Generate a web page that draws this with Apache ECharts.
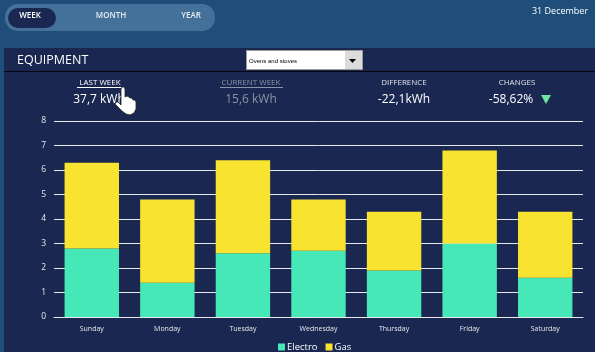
<!DOCTYPE html>
<html>
<head>
<meta charset="utf-8">
<script src="https://cdn.jsdelivr.net/npm/echarts@6/dist/echarts.min.js"></script>
<style>
    html, body { margin: 0; padding: 0; background: #1f4e7a; }
    #chart { width: 595px; height: 352px; }
</style>
</head>
<body>
<div id="chart"></div>
<script>
const days = ['Sunday', 'Monday', 'Tuesday', 'Wednesday', 'Thursday', 'Friday', 'Saturday'];
const electro = [2.8, 1.4, 2.6, 2.7, 1.9, 3.0, 1.6];
const gas = [3.5, 3.4, 3.8, 2.1, 2.4, 3.8, 2.7];
const tabs = ['WEEK', 'MONTH', 'YEAR'];

const font = '"Open Sans", "Noto Sans", sans-serif';
const panel = '#1a2750';

function label(x, y, text, size, color, extra) {
    return {
        type: 'text', x, y, z: 5,
        style: Object.assign({ text, fontSize: size, fontFamily: font, fill: color, align: 'center', verticalAlign: 'middle' }, extra)
    };
}

function rect(x, y, width, height, fill, r, z) {
    return { type: 'rect', z: z === undefined ? 0 : z, shape: { x, y, width, height, r: r || 0 }, style: { fill } };
}

const chart = echarts.init(document.getElementById('chart'));

chart.setOption({
    backgroundColor: '#1f4e7a',
    animation: false,
    grid: { left: 54, right: 12, top: 121, bottom: 35 },
    legend: {
        data: ['Electro', 'Gas'],
        bottom: -5,
        left: 273,
        itemWidth: 7,
        itemHeight: 7,
        itemGap: 8,
        icon: 'rect',
        textStyle: { color: '#ffffff', fontSize: 9.5, fontFamily: font, padding: [0, 0, 0, -3] }
    },
    xAxis: {
        type: 'category',
        data: days,
        axisTick: { show: false },
        axisLine: { lineStyle: { color: '#e6e8ee', width: 1 } },
        axisLabel: { color: '#e6e8ee', fontSize: 7, fontFamily: font, margin: 8, interval: 0 }
    },
    yAxis: {
        type: 'value',
        min: 0,
        max: 8,
        interval: 1,
        axisLine: { show: false },
        axisTick: { show: false },
        axisLabel: { color: '#e6e8ee', fontSize: 8.5, fontFamily: font, margin: 8 },
        splitLine: { lineStyle: { color: '#e6e8ee', width: 1 } }
    },
    series: [
        { name: 'Electro', type: 'bar', stack: 'total', barWidth: '72%', data: electro, itemStyle: { color: '#47e8b8' } },
        { name: 'Gas', type: 'bar', stack: 'total', barWidth: '72%', data: gas, itemStyle: { color: '#f7e330' } }
    ],
    graphic: [
        // tabs
        rect(5, 4, 210, 27, '#44719a', 13),
        rect(8, 8, 48, 20, panel, 10, 1),
        label(30, 16, tabs[0], 8, '#ffffff', { fontWeight: 600 }),
        label(111, 16, tabs[1], 8, '#e6ecf3', { fontWeight: 600 }),
        label(191, 16, tabs[2], 8, '#e6ecf3', { fontWeight: 600 }),
        label(560, 11, '31 December', 9, '#ffffff'),
        // panel
        rect(4, 48, 591, 304, panel),
        rect(4, 71, 591, 1, '#05070f', 0, 1),
        label(17, 60, 'EQUIPMENT', 12.5, '#ffffff', { align: 'left' }),
        // dropdown
        rect(246, 50, 117, 20, '#9a9a9a', 0, 1),
        rect(247, 51, 115, 18, '#ffffff', 0, 3),
        rect(345, 51, 17, 18, '#dcdcdc', 0, 4),
        label(249, 61, 'Ovens and stoves', 6, '#000000', { align: 'left', fontFamily: 'Liberation Sans' }),
        { type: 'polygon', z: 5, shape: { points: [[349, 59], [356, 59], [352.5, 63]] }, style: { fill: '#000000' } },
        // headline numbers
        label(100, 83, 'LAST WEEK', 8, '#ffffff'),
        rect(77, 87, 47, 1, '#ffffff', 0, 5),
        label(99, 100, '37,7 kWh', 12, '#ffffff'),
        label(251, 83, 'CURRENT WEEK', 8, '#8d93a6'),
        rect(220, 87, 63, 1, '#8d93a6', 0, 5),
        label(251, 100, '15,6 kWh', 12, '#8d93a6'),
        label(404, 83, 'DIFFERENCE', 8, '#dfe2ea'),
        label(404, 100, '-22,1kWh', 12, '#ffffff'),
        label(517, 83, 'CHANGES', 8, '#dfe2ea'),
        label(511, 100, '-58,62%', 12, '#ffffff'),
        { type: 'polygon', z: 5, shape: { points: [[541, 95], [551, 95], [546, 104]] }, style: { fill: '#6fe3a0' } },
        // hand cursor
        {
            type: 'polygon', z: 10,
            shape: {
                points: [[121, 89], [122, 87], [124, 87], [125, 89], [125, 97], [127, 96], [129, 97], [130, 98], [132, 98], [133, 100], [135, 100], [136, 102], [136, 109], [134, 113], [130, 115], [126, 114], [122, 111], [115, 104], [116, 102], [118, 102], [121, 105]]
            },
            style: { fill: '#ffffff', stroke: '#222222', lineWidth: 0.8 }
        }
    ]
});
</script>
</body>
</html>
